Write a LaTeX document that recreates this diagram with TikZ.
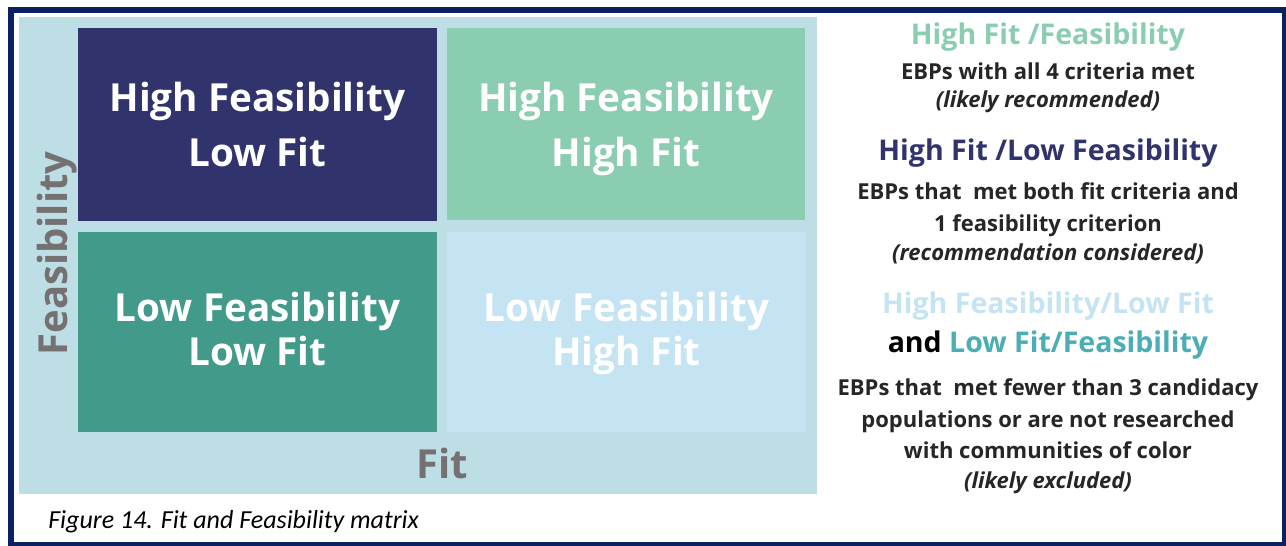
\documentclass[tikz,border=0pt]{standalone}
\usepackage{fontspec}
\setmainfont{Open Sans}
\newfontfamily\capfont{Carlito}
\definecolor{navyborder}{HTML}{0B2262}
\definecolor{panel}{HTML}{BDDEE4}
\definecolor{cellnavy}{HTML}{31346C}
\definecolor{cellgreen}{HTML}{8BCDB0}
\definecolor{cellteal}{HTML}{419A8A}
\definecolor{celllight}{HTML}{C5E4F3}
\definecolor{axisgray}{HTML}{757171}
\definecolor{bodytext}{HTML}{262626}
\definecolor{tealtext}{HTML}{4BAEB5}
\begin{document}
\begin{tikzpicture}[x=0.75pt,y=-0.75pt,
  cell/.style={rectangle, inner sep=0pt, text=white, align=center, text depth=0pt,
    font=\bfseries\fontsize{29}{41.25}\selectfont},
  lowcell/.style={cell, text depth=4.5pt, font=\bfseries\fontsize{29}{33}\selectfont},
  axislabel/.style={inner sep=0pt, anchor=base, text=axisgray, font=\bfseries\fontsize{30}{36}\selectfont},
  headtext/.style={inner sep=0pt, anchor=base, font=\bfseries\fontsize{21.4}{25}\selectfont},
  bodyline/.style={inner sep=0pt, anchor=base, text=bodytext, font=\bfseries\fontsize{16.5}{20}\selectfont},
  bodyital/.style={bodyline, font=\bfseries\itshape\fontsize{16.5}{20}\selectfont}]
\useasboundingbox (0,0) rectangle (1286,546);
\fill[white] (0,0) rectangle (1286,546);
\draw[navyborder, line width=4.5pt] (11,9.5) rectangle (1285,544.5);
% panel
\fill[panel] (19,17) rectangle (817,494);
% cells
\node[cell, fill=cellnavy, minimum width=359*0.75pt, minimum height=193*0.75pt] (hflf) at (257.5,124.5) {High Feasibility\\Low Fit};
\node[cell, fill=cellgreen, minimum width=358*0.75pt, minimum height=192*0.75pt] (hfhf) at (626,124) {High Feasibility\\High Fit};
\node[lowcell, fill=cellteal, minimum width=359*0.75pt, minimum height=200*0.75pt] (lflf) at (257.5,332) {Low Feasibility\\Low Fit};
\node[lowcell, fill=celllight, minimum width=359*0.75pt, minimum height=200*0.75pt] (lfhf) at (626.5,332) {Low Feasibility\\High Fit};
% axes
\node[axislabel, rotate=90] (feas) at (67,253.5) {Feasibility};
\node[axislabel] (fit) at (442,478) {Fit};
% legend
\node[headtext, text=cellgreen] (h1) at (1048,44) {High Fit /Feasibility};
\node[bodyline] (b1) at (1048,79) {EBPs with all 4 criteria met};
\node[bodyital] (i1) at (1048,107) {(likely recommended)};
\node[headtext, text=cellnavy] (h2) at (1048,160) {High Fit /Low Feasibility};
\node[bodyline] (b2) at (1048,199) {EBPs that\ \ met both fit criteria and};
\node[bodyline] (b3) at (1048,231) {1 feasibility criterion};
\node[bodyital] (i2) at (1048,260) {(recommendation considered)};
\node[headtext, text=celllight] (h3) at (1048,313) {High Feasibility/Low Fit};
\node[headtext, text=black] (h4) at (1048,352) {and \textcolor{tealtext}{Low Fit/Feasibility}};
\node[bodyline] (b4) at (1048,395) {EBPs that\ \ met fewer than 3 candidacy};
\node[bodyline] (b5) at (1048,427) {populations or are not researched};
\node[bodyline] (b6) at (1048,458) {with communities of color};
\node[bodyital] (i3) at (1048,488) {(likely excluded)};
% caption
\node[inner sep=0pt, anchor=base west, font=\capfont\itshape\fontsize{19.5}{23}\selectfont] (cap) at (48,528) {Figure 14. Fit and Feasibility matrix};
\end{tikzpicture}
\end{document}
